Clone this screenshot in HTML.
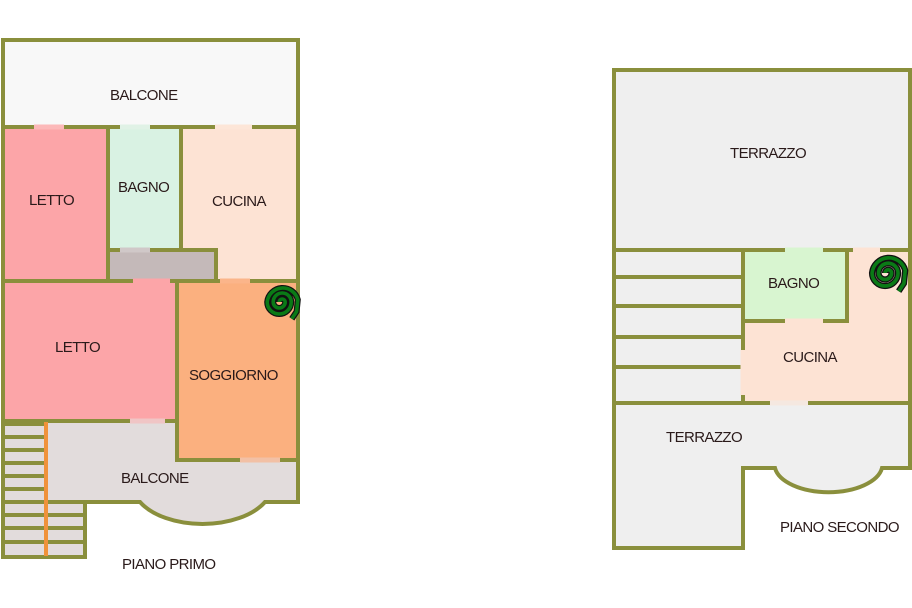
<!DOCTYPE html>
<html><head><meta charset="utf-8"><style>body{margin:0;background:#fff}svg{display:block}text{font-family:"Liberation Sans",sans-serif;font-size:15px;fill:#2a1a1a;letter-spacing:-0.6px}</style></head><body>
<svg width="912" height="608" viewBox="0 0 912 608" xmlns="http://www.w3.org/2000/svg">
<defs>
<path id="sp" d="M-1.5 0 A2.5 2.5 0 0 1 3.5 0 A5 5 0 0 1 -6.5 0 A7.5 7.5 0 0 1 8.5 0 A10 10 0 0 1 -11.5 0 A13 13 0 0 1 14 -2 L 13 8 L 9 14"/>
</defs>
<rect width="912" height="608" fill="#fff"/>
<g stroke="#8a8f3c" stroke-width="4">
<rect x="3" y="40" width="295" height="87" fill="#f8f8f8"/>
<rect x="3" y="127" width="105" height="154" fill="#fca5a8"/>
<rect x="108" y="127" width="73" height="123" fill="#d9f2e3"/>
<rect x="181" y="127" width="117" height="154" fill="#fde3d4"/>
<rect x="108" y="250" width="108" height="31" fill="#c4b9b9"/>
<rect x="3" y="281" width="174" height="140" fill="#fca5a8"/>
<rect x="177" y="281" width="121" height="179" fill="#fbb07f"/>
<path d="M48 421 H177 V460 H298 V502 H265 A70 40 0 0 1 140 502 H85 V557 H3 V421 Z" fill="#e2dcdc"/>
</g>
<g fill="#e2dcdc" stroke="none"><rect x="7" y="423" width="38" height="132"/><rect x="50" y="504" width="33" height="51"/></g>
<g fill="none" stroke-width="5">
<line x1="34" y1="127" x2="64" y2="127" stroke="#fcb9b9"/>
<line x1="120" y1="127" x2="150" y2="127" stroke="#e0f2e6"/>
<line x1="215" y1="127" x2="252" y2="127" stroke="#fde6d8"/>
<line x1="120" y1="250" x2="150" y2="250" stroke="#d0c8c8"/>
<line x1="133" y1="281" x2="170" y2="281" stroke="#fca5a8"/>
<line x1="220" y1="281" x2="250" y2="281" stroke="#fbb58a"/>
<line x1="130" y1="421" x2="165" y2="421" stroke="#f0c5c5"/>
<line x1="240" y1="460" x2="280" y2="460" stroke="#f2c0a5"/>
</g>
<g stroke="#8a8f3c" stroke-width="4">
<line x1="5" y1="424" x2="46" y2="424"/><line x1="5" y1="437" x2="46" y2="437"/><line x1="5" y1="450" x2="46" y2="450"/><line x1="5" y1="463" x2="46" y2="463"/><line x1="5" y1="476" x2="46" y2="476"/><line x1="5" y1="489" x2="46" y2="489"/><line x1="5" y1="502" x2="85" y2="502"/><line x1="5" y1="515" x2="85" y2="515"/><line x1="5" y1="528" x2="85" y2="528"/><line x1="5" y1="542" x2="85" y2="542"/>
</g>
<line x1="46" y1="422" x2="46" y2="556" stroke="#f0923a" stroke-width="4"/>
<g stroke="#8a8f3c" stroke-width="4">
<rect x="614" y="70" width="296" height="180" fill="#efefef"/>
<rect x="614" y="250" width="129" height="153" fill="#efefef"/>
<rect x="743" y="250" width="167" height="153" fill="#fde3d4"/>
<rect x="743" y="250" width="104" height="71" fill="#d8f5d0"/>
<path d="M614 403 H910 V468 H882 A54 28 0 0 1 775 468 H743 V548 H614 Z" fill="#efefef"/>
<line x1="614" y1="277" x2="743" y2="277"/><line x1="614" y1="306" x2="743" y2="306"/><line x1="614" y1="337" x2="743" y2="337"/><line x1="614" y1="367" x2="743" y2="367"/>
</g>
<g fill="none" stroke-width="5">
<line x1="785" y1="250" x2="823" y2="250" stroke="#d8f5d0"/>
<line x1="853" y1="250" x2="880" y2="250" stroke="#fde3d4"/>
<line x1="785" y1="321" x2="823" y2="321" stroke="#fde3d4"/>
<line x1="770" y1="403" x2="808" y2="403" stroke="#f5e8e0"/>
<line x1="743" y1="350" x2="743" y2="395" stroke="#fde3d4"/>
</g>
<g fill="none">
<use href="#sp" transform="translate(281,302) scale(1.2)" stroke="#111" stroke-width="5"/>
<use href="#sp" transform="translate(281,302) scale(1.2)" stroke="#0a7a16" stroke-width="3"/>
<use href="#sp" transform="translate(887,273) scale(1.3)" stroke="#111" stroke-width="4.8"/>
<use href="#sp" transform="translate(887,273) scale(1.3)" stroke="#0a7a16" stroke-width="2.8"/>
</g>
<text x="110" y="100">BALCONE</text>
<text x="29" y="205">LETTO</text>
<text x="118" y="192">BAGNO</text>
<text x="212" y="206">CUCINA</text>
<text x="55" y="352">LETTO</text>
<text x="189" y="380">SOGGIORNO</text>
<text x="121" y="483">BALCONE</text>
<text x="122" y="569">PIANO PRIMO</text>
<text x="730" y="158">TERRAZZO</text>
<text x="768" y="288">BAGNO</text>
<text x="783" y="362">CUCINA</text>
<text x="666" y="442">TERRAZZO</text>
<text x="780" y="532">PIANO SECONDO</text>
</svg>
</body></html>
